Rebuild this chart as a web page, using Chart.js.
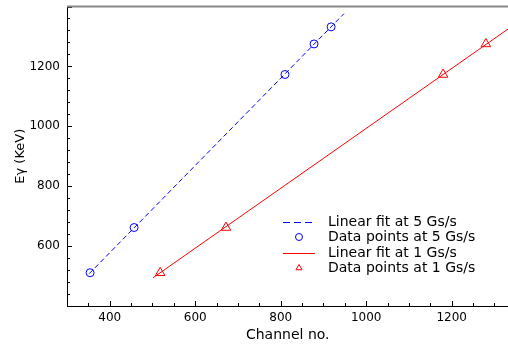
<!DOCTYPE html>
<html>
<head>
<meta charset="utf-8">
<script src="https://cdn.jsdelivr.net/npm/chart.js@4.4.1/dist/chart.umd.min.js"></script>
<style>
  html, body { margin: 0; padding: 0; background: #fff; overflow: hidden; }
  #wrap { width: 515px; height: 347px; }
</style>
</head>
<body>
<div id="wrap"><canvas id="calib"></canvas></div>
<script>
// calibration data
var channel5 = [354, 457, 810, 878, 918];
var energy5  = [511, 662, 1173, 1275, 1332];
var channel1 = [518, 672, 1180, 1280];
var energy1  = [511, 662, 1173, 1275];

// end points of the fitted lines
var fit5Channel = [352, 948];
var fit5Energy  = [508, 1376];
var fit1Channel = [501, 1340];
var fit1Energy  = [494, 1333];

var xTicks = [400, 600, 800, 1000, 1200];
var yTicks = [600, 800, 1000, 1200];

var fontFam = '"DejaVu Sans", Verdana, sans-serif';

function toPoints(xs, ys) {
    return xs.map(function(x, i) { return {x: x, y: ys[i]}; });
}

// ticks pointing into the plot, plus the grey top frame
var innerTicks = {
    id: 'innerTicks',
    afterDraw: function(chart) {
        var ctx = chart.ctx;
        var a = chart.chartArea;
        var xs = chart.scales.x, ys = chart.scales.y;
        ctx.save();
        ctx.strokeStyle = '#000';
        ctx.lineWidth = 1;
        ctx.beginPath();
        for (var v = 300; v <= 1340; v += 50) {
            var px = Math.round(xs.getPixelForValue(v)) + 0.5;
            if (px < a.left || px > a.right) continue;
            var len = (v % 200 === 0) ? 5 : 3;
            ctx.moveTo(px, a.bottom);
            ctx.lineTo(px, a.bottom - len);
        }
        for (var w = 400; w <= 1400; w += 40) {
            var py = Math.round(ys.getPixelForValue(w)) + 0.5;
            var len2 = (w % 200 === 0) ? 5 : 3;
            ctx.moveTo(a.left, py);
            ctx.lineTo(a.left + len2, py);
        }
        ctx.stroke();

        ctx.strokeStyle = '#888';
        ctx.lineWidth = 2;
        ctx.beginPath();
        ctx.moveTo(a.left, a.top);
        ctx.lineTo(a.right, a.top);
        ctx.stroke();
        ctx.restore();
    }
};

// legend sitting inside the plot, lower right
var innerLegend = {
    id: 'innerLegend',
    afterDraw: function(chart) {
        var ctx = chart.ctx;
        var x0 = 283, x1 = 315, tx = 328;
        var rows = [222, 237, 253, 268];
        ctx.save();
        ctx.font = '14px ' + fontFam;
        ctx.textBaseline = 'middle';
        chart.data.datasets.forEach(function(ds, i) {
            var y = rows[i];
            ctx.strokeStyle = ds.borderColor;
            ctx.lineWidth = 1;
            if (ds.showLine) {
                ctx.setLineDash(ds.borderDash ? [7, 4] : []);
                ctx.beginPath();
                ctx.moveTo(x0, y + 0.5);
                ctx.lineTo(x1, y + 0.5);
                ctx.stroke();
                ctx.setLineDash([]);
            } else {
                ctx.fillStyle = 'rgba(0,0,0,0)';
                Chart.helpers.drawPoint(ctx, {
                    pointStyle: ds.pointStyle,
                    radius: 3.5,
                    borderWidth: 1
                }, (x0 + x1) / 2, y);
            }
            ctx.fillStyle = '#000';
            ctx.fillText(ds.label, tx, y);
        });
        ctx.restore();
    }
};

new Chart(document.getElementById('calib'), {
    type: 'scatter',
    data: {
        datasets: [
            {
                label: 'Linear fit at 5 Gs/s',
                data: toPoints(fit5Channel, fit5Energy),
                showLine: true,
                borderColor: '#0000ff',
                borderWidth: 1,
                borderDash: [5, 3],
                pointRadius: 0
            },
            {
                label: 'Data points at 5 Gs/s',
                data: toPoints(channel5, energy5),
                showLine: false,
                borderColor: '#0000ff',
                backgroundColor: 'rgba(0,0,0,0)',
                pointStyle: 'circle',
                pointRadius: 4,
                borderWidth: 1
            },
            {
                label: 'Linear fit at 1 Gs/s',
                data: toPoints(fit1Channel, fit1Energy),
                showLine: true,
                borderColor: '#ff0000',
                borderWidth: 1,
                pointRadius: 0
            },
            {
                label: 'Data points at 1 Gs/s',
                data: toPoints(channel1, energy1),
                showLine: false,
                borderColor: '#ff0000',
                backgroundColor: 'rgba(0,0,0,0)',
                pointStyle: 'triangle',
                pointRadius: 5.5,
                borderWidth: 1
            }
        ]
    },
    options: {
        responsive: true,
        maintainAspectRatio: false,
        animation: false,
        layout: { padding: { top: 5, right: 0, left: 0, bottom: 0 } },
        plugins: {
            legend: { display: false },
            tooltip: { enabled: false }
        },
        scales: {
            x: {
                type: 'linear',
                min: 300,
                max: 1333,
                afterBuildTicks: function(s) {
                    s.ticks = xTicks.map(function(v) { return {value: v}; });
                },
                afterFit: function(s) {
                    s.height = 41;
                    s.paddingLeft = 0;
                    s.paddingRight = 0;
                },
                grid: { display: false, drawTicks: false, tickLength: 0 },
                border: { display: true, color: '#000', width: 1 },
                ticks: {
                    color: '#000',
                    padding: 5,
                    maxRotation: 0,
                    callback: function(v) { return String(v); },
                    font: { family: fontFam, size: 12 }
                },
                title: {
                    display: true,
                    text: 'Channel no.',
                    color: '#000',
                    padding: { top: 1, bottom: 3 },
                    font: { family: fontFam, size: 14 }
                }
            },
            y: {
                type: 'linear',
                min: 400,
                max: 1400,
                afterBuildTicks: function(s) {
                    s.ticks = yTicks.map(function(v) { return {value: v}; });
                },
                afterFit: function(s) {
                    s.width = 67;
                    s.paddingTop = 0;
                    s.paddingBottom = 0;
                },
                grid: { display: false, drawTicks: false, tickLength: 0 },
                border: { display: true, color: '#000', width: 1 },
                ticks: {
                    color: '#000',
                    padding: 7,
                    callback: function(v) { return String(v); },
                    font: { family: fontFam, size: 12 }
                },
                title: {
                    display: true,
                    text: 'Eγ (KeV)',
                    color: '#000',
                    padding: { top: 13, bottom: 0 },
                    font: { family: fontFam, size: 13 }
                }
            }
        }
    },
    plugins: [innerTicks, innerLegend]
});
</script>
</body>
</html>
